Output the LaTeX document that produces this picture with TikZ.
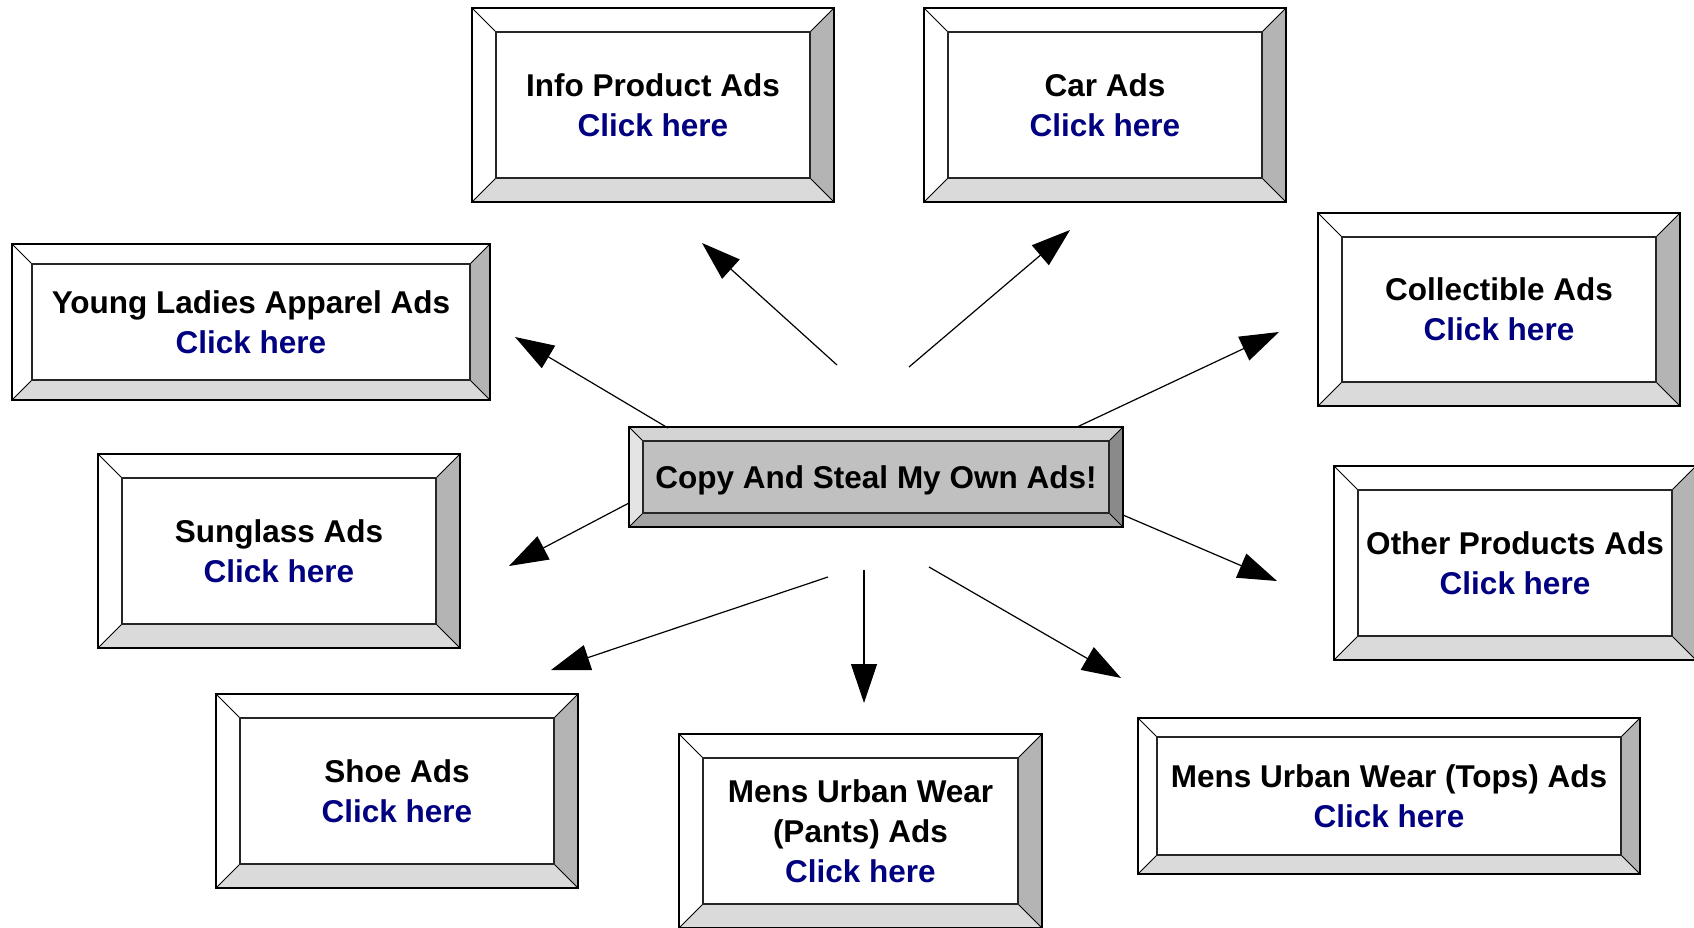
\documentclass[tikz,border=0pt]{standalone}
\usepackage{fontspec}
\setmainfont{Liberation Sans}
\usetikzlibrary{arrows.meta}
\definecolor{linkblue}{RGB}{0,0,128}
\definecolor{wface}{RGB}{255,255,255}
\definecolor{wtop}{RGB}{255,255,255}
\definecolor{wleft}{RGB}{255,255,255}
\definecolor{wright}{RGB}{180,180,180}
\definecolor{wbot}{RGB}{218,218,218}
\definecolor{gface}{RGB}{192,192,192}
\definecolor{gtop}{RGB}{212,212,212}
\definecolor{gleft}{RGB}{228,228,228}
\definecolor{gright}{RGB}{138,138,138}
\definecolor{gbot}{RGB}{164,164,164}
\tikzset{
  outerline/.style={draw=black, line width=1.8pt},
  innerline/.style={draw=black!85, line width=1.2pt},
  bevline/.style={draw=black, line width=1pt},
  boxtext/.style={align=center, inner sep=0pt, text depth=0pt, font=\fontsize{31.5}{40}\selectfont\bfseries},
  arr/.style={draw=black, line width=1.2pt, -{Triangle[length=39pt,width=26pt]}},
}
\newcommand\bevbox[8]{%
  \fill[#7face] (#2,#3) rectangle (#4,#5);
  \fill[#7top] (#2,#3) -- (#4,#3) -- ({#4-#6},{#3+#6}) -- ({#2+#6},{#3+#6}) -- cycle;
  \fill[#7left] (#2,#3) -- ({#2+#6},{#3+#6}) -- ({#2+#6},{#5-#6}) -- (#2,#5) -- cycle;
  \fill[#7right] (#4,#3) -- (#4,#5) -- ({#4-#6},{#5-#6}) -- ({#4-#6},{#3+#6}) -- cycle;
  \fill[#7bot] (#2,#5) -- (#4,#5) -- ({#4-#6},{#5-#6}) -- ({#2+#6},{#5-#6}) -- cycle;
  \draw[bevline] (#2,#3) -- ({#2+#6},{#3+#6})
                 (#4,#3) -- ({#4-#6},{#3+#6})
                 (#2,#5) -- ({#2+#6},{#5-#6})
                 (#4,#5) -- ({#4-#6},{#5-#6});
  \draw[innerline] ({#2+#6},{#3+#6}) rectangle ({#4-#6},{#5-#6});
  \draw[outerline] (#2,#3) rectangle (#4,#5);
  \node[boxtext] (#1) at ({(#2+#4)/2},{(#3+#5)/2}) {#8};
}
\newcommand\clickhere{\textcolor{linkblue}{Click here}}
\begin{document}
\begin{tikzpicture}[x=1pt,y=-1pt]
\useasboundingbox (0,0) rectangle (1694,928);
\clip (0,0) rectangle (1694,928);
\fill[white] (0,0) rectangle (1694,928);

\bevbox{info}{472}{8}{834}{202}{24}{w}{Info Product Ads\\\clickhere}
\bevbox{car}{924}{8}{1286}{202}{24}{w}{Car Ads\\\clickhere}
\bevbox{young}{12}{244}{490}{400}{20}{w}{Young Ladies Apparel Ads\\\clickhere}
\bevbox{collect}{1318}{213}{1680}{406}{24}{w}{Collectible Ads\\\clickhere}
\bevbox{sun}{98}{454}{460}{648}{24}{w}{Sunglass Ads\\\clickhere}
\bevbox{other}{1334}{466}{1696}{660}{24}{w}{Other Products Ads\\\clickhere}
\bevbox{shoe}{216}{694}{578}{888}{24}{w}{Shoe Ads\\\clickhere}
\bevbox{pants}{679}{734}{1042}{928}{24}{w}{Mens Urban Wear\\(Pants) Ads\\\clickhere}
\bevbox{tops}{1138}{718}{1640}{874}{19}{w}{Mens Urban Wear (Tops) Ads\\\clickhere}
\bevbox{main}{629}{427}{1123}{527}{14}{g}{Copy And Steal My Own Ads!}

\coordinate (s1) at (837,365); \coordinate (t1) at (702,243);
\coordinate (s2) at (909,367); \coordinate (t2) at (1070,230);
\coordinate (s3) at (668,428); \coordinate (t3) at (515,337);
\coordinate (s4) at (1077,427); \coordinate (t4) at (1279,332);
\coordinate (s5) at (629,503); \coordinate (t5) at (509,566);
\coordinate (s6) at (1123,515); \coordinate (t6) at (1277,581);
\coordinate (s7) at (828,577); \coordinate (t7) at (551,670);
\coordinate (s8) at (864,570); \coordinate (t8) at (864,703);
\coordinate (s9) at (929,567); \coordinate (t9) at (1121,678);

\foreach \i in {1,...,9} { \draw[arr] (s\i) -- (t\i); }
\end{tikzpicture}
\end{document}
